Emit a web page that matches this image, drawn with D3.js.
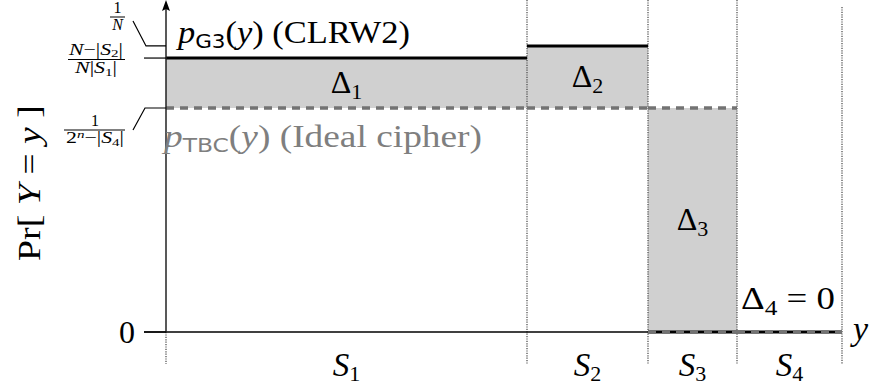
<!DOCTYPE html>
<html><head><meta charset="utf-8">
<script src="https://cdn.jsdelivr.net/npm/d3@7"></script>
<style>
body{margin:0;background:#fff;}
svg{display:block;}
text{font-family:"Liberation Serif","DejaVu Serif",serif;}
</style></head>
<body>
<svg id="c" width="870" height="385"></svg>
<script>
// ---- data ----
const segments = ["S1","S2","S3","S4"];          // set names
const segSizes = [3.61, 1.21, 0.89, 1.05];       // relative sizes |S_i|
const pG3  = [1.223, 1.277, 0, 0];               // CLRW2 probability per set
const pTBC = [1, 1, 1, 0];                       // ideal cipher probability per set
const deltaLabels = ["1","2","3","4"];
const tickValues = [0, 1, 1.223, 1.277];
const tickNames  = ["zero","tbc","mid","invN"];

// ---- scales ----
const svg = d3.select("#c");
const edges = [0]; segSizes.forEach(s => edges.push(edges[edges.length-1] + s));
const x = d3.scaleLinear().domain([0, edges[edges.length-1]]).range([166, 842]);
const y = d3.scaleLinear().domain([0, 1]).range([332, 108]);
const segs = segments.map((s,i)=>({name:s,i,x0:edges[i],x1:edges[i+1],g:pG3[i],t:pTBC[i]}));

// ---- gray delta areas ----
svg.append("g").selectAll("rect").data(segs.filter(d=>d.g!==d.t)).join("rect")
  .attr("x", d=>x(d.x0)).attr("width", d=>x(d.x1)-x(d.x0))
  .attr("y", d=>y(Math.max(d.g,d.t))).attr("height", d=>Math.abs(y(d.g)-y(d.t)))
  .attr("fill","#d0d0d0");

// ---- dotted separators ----
const sepG = svg.append("g").attr("stroke","#444").attr("stroke-width",1.2).attr("stroke-dasharray","1.2,1.2");
edges.forEach((e,i)=>{
  const top = i===0 ? y(0) : (i===edges.length-1 ? 7 : 0);
  sepG.append("line").attr("x1",x(e)).attr("x2",x(e)).attr("y1",top).attr("y2",364);
});

// ---- x axis line ----
svg.append("line").attr("x1",144).attr("x2",x(edges[edges.length-1])).attr("y1",y(0)).attr("y2",y(0))
  .attr("stroke","#000").attr("stroke-width",1.5);

// ---- G3 (solid black) ----
svg.append("g").selectAll("line").data(segs).join("line")
  .attr("x1",d=>x(d.x0)).attr("x2",d=>x(d.x1)).attr("y1",d=>y(d.g)).attr("y2",d=>y(d.g))
  .attr("stroke","#000").attr("stroke-width",3);

// ---- TBC (dashed gray) ----
svg.append("g").selectAll("line").data(segs).join("line")
  .attr("x1",d=>x(d.x0)).attr("x2",d=>x(d.x1)).attr("y1",d=>y(d.t)).attr("y2",d=>y(d.t))
  .attr("stroke","#737373").attr("stroke-width",3.4).attr("stroke-dasharray","8,6");
svg.append("g").selectAll("line").data(segs.filter(d=>d.g===0 && d.t!==0)).join("line")
  .attr("x1",d=>x(d.x0)).attr("x2",d=>x(d.x1)).attr("y1",y(0)).attr("y2",y(0))
  .attr("stroke","#737373").attr("stroke-width",3.4).attr("stroke-dasharray","8,6");

// ---- y axis with arrow ----
svg.append("line").attr("x1",166).attr("x2",166).attr("y1",y(0)).attr("y2",8)
  .attr("stroke","#222").attr("stroke-width",1.5);
svg.append("path").attr("d","M166,0 L170,11 L166,9 L162,11 Z").attr("fill","#000");

// ---- ticks with leaders ----
const tk = svg.append("g").attr("stroke","#000").attr("stroke-width",1.2).attr("fill","none");
const yv = n => y(tickValues[tickNames.indexOf(n)]);
tk.append("line").attr("x1",144).attr("x2",166).attr("y1",yv("zero")).attr("y2",yv("zero"));
tk.append("line").attr("x1",144).attr("x2",166).attr("y1",yv("mid")).attr("y2",yv("mid"));
tk.append("path").attr("d",`M133,21 L146,${yv("invN")} L166,${yv("invN")}`);
tk.append("path").attr("d",`M133,130 L145,${yv("tbc")} L166,${yv("tbc")}`);

// tick label 0
svg.append("text").attr("x",127).attr("y",yv("zero")+11).attr("text-anchor","middle")
  .attr("font-size",32).text("0");

// fraction helper
function frac(cx, barY, x0, x1, num, den, fs, nw, dw){
  const g = svg.append("g");
  g.append("line").attr("x1",x0).attr("x2",x1).attr("y1",barY).attr("y2",barY).attr("stroke","#000").attr("stroke-width",1);
  const n = g.append("text").attr("x",cx).attr("y",barY-4.5).attr("text-anchor","middle").attr("font-size",fs);
  if (nw) n.attr("textLength",nw).attr("lengthAdjust","spacingAndGlyphs");
  num(n);
  const d = g.append("text").attr("x",cx).attr("y",barY+fs*0.82).attr("text-anchor","middle").attr("font-size",fs);
  if (dw) d.attr("textLength",dw).attr("lengthAdjust","spacingAndGlyphs");
  den(d);
}
frac(117.5, 17, 110, 125, t=>t.text("1"), t=>t.append("tspan").attr("font-style","italic").text("N"), 16);
frac(96, 59.5, 68, 125,
  t=>{t.append("tspan").attr("font-style","italic").text("N");
      t.append("tspan").text("−|");
      t.append("tspan").attr("font-style","italic").text("S");
      t.append("tspan").attr("font-size",11).attr("dy",2).text("2");
      t.append("tspan").attr("dy",-2).text("|");},
  t=>{t.append("tspan").attr("font-style","italic").text("N");
      t.append("tspan").text("|");
      t.append("tspan").attr("font-style","italic").text("S");
      t.append("tspan").attr("font-size",11).attr("dy",3).text("1");
      t.append("tspan").attr("dy",-3).text("|");}, 16, 54, 42);
frac(95, 130, 64, 125,
  t=>t.text("1"),
  t=>{t.append("tspan").text("2");
      t.append("tspan").attr("font-size",11).attr("font-style","italic").attr("dy",-5).text("n");
      t.append("tspan").attr("dy",5).text("−|");
      t.append("tspan").attr("font-style","italic").text("S");
      t.append("tspan").attr("font-size",11).attr("dy",3).text("4");
      t.append("tspan").attr("dy",-3).text("|");}, 16, null, 58);

// ---- series labels ----
function pLabel(xp, yp, sub, rest, color, w){
  const t = svg.append("text").attr("x",xp).attr("y",yp).attr("font-size",32).attr("fill",color)
    .attr("textLength",w).attr("lengthAdjust","spacingAndGlyphs");
  t.append("tspan").attr("font-style","italic").text("p");
  t.append("tspan").attr("font-family","'DejaVu Sans',sans-serif").attr("font-size",20).attr("dy",5).text(sub);
  t.append("tspan").attr("dy",-5).text("(");
  t.append("tspan").attr("font-style","italic").text("y");
  t.append("tspan").text(") " + rest);
}
pLabel(178, 43, "G3", "(CLRW2)", "#000", 232);
pLabel(164, 147, "TBC", "(Ideal cipher)", "#7f7f7f", 318);

// ---- delta labels ----
const deltaPos = segs.map(d=>{
  if (d.g===d.t) return {x:x(d.x0)+4, y:y(0)-23, anchor:"start", eq:true};
  const top = y(Math.max(d.g,d.t)), bot = y(Math.min(d.g,d.t));
  return {x:(x(d.x0)+x(d.x1))/2, y:(top+bot)/2+10, anchor:"middle", eq:false};
});
segs.forEach((d,i)=>{
  const p = deltaPos[i];
  const t = svg.append("text").attr("x",p.x).attr("y",p.y).attr("text-anchor",p.anchor).attr("font-size",32);
  t.append("tspan").text("Δ");
  t.append("tspan").attr("font-size",22).attr("dy",6).text(deltaLabels[i]);
  if (p.eq) { t.attr("textLength",94).attr("lengthAdjust","spacingAndGlyphs"); t.append("tspan").attr("dy",-6).text(" = 0"); }
});

// ---- segment labels ----
segs.forEach(d=>{
  const t = svg.append("text").attr("x",(x(d.x0)+x(d.x1))/2).attr("y",376).attr("text-anchor","middle").attr("font-size",33);
  t.append("tspan").attr("font-style","italic").text("S");
  t.append("tspan").attr("font-size",22).attr("dy",5).text(d.name.slice(1));
});

// x-axis label
svg.append("text").attr("x",853).attr("y",340).attr("font-size",34).attr("font-style","italic").text("y");

// y-axis label
const yl = svg.append("text").attr("transform","translate(40,183) rotate(-90)").attr("text-anchor","middle")
  .attr("font-size",32).attr("textLength",156).attr("lengthAdjust","spacingAndGlyphs");
yl.append("tspan").text("Pr[ ");
yl.append("tspan").attr("font-style","italic").text("Y");
yl.append("tspan").text(" = ");
yl.append("tspan").attr("font-style","italic").text("y");
yl.append("tspan").text(" ]");
</script>
</body></html>
